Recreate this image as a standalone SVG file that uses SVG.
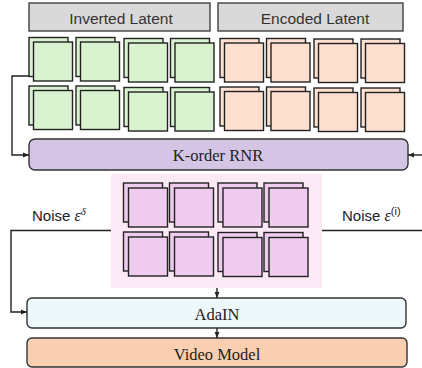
<svg xmlns="http://www.w3.org/2000/svg" width="422" height="368" viewBox="0 0 422 368">
<defs>
<style>
.hdr{fill:#d9d9d9;stroke:#333;stroke-width:1.3}
.ht{font-family:"Liberation Sans",Arial,sans-serif;font-size:15.5px;fill:#333;text-anchor:middle}
.g{fill:#d9f2d0;stroke:#222;stroke-width:1.4}
.p{fill:#fde0d0;stroke:#222;stroke-width:1.4}
.m{fill:#efcbed;stroke:#222;stroke-width:1.4}
.st{font-family:"Liberation Serif","Times New Roman",serif;font-size:16.5px;fill:#222;text-anchor:middle}
.nt{font-family:"Liberation Sans",Arial,sans-serif;font-size:15px;fill:#222}
.mt{font-family:"Liberation Serif","Times New Roman",serif;font-style:italic}
.ln{fill:none;stroke:#222;stroke-width:1.4}
</style>
<marker id="ar" viewBox="0 0 10 10" refX="10" refY="5" markerWidth="6" markerHeight="6" orient="auto" markerUnits="userSpaceOnUse">
<path d="M0,1 L10,5 L0,9 z" fill="#222"/>
</marker>
<g id="tg"><rect class="g" x="0" y="0" width="39" height="39"/><rect class="g" x="4.5" y="4.5" width="39" height="39"/></g>
<g id="tp"><rect class="p" x="0" y="0" width="39" height="39"/><rect class="p" x="4.5" y="4.5" width="39" height="39"/></g>
<g id="tm"><rect class="m" x="0" y="0" width="39" height="39"/><rect class="m" x="5" y="5" width="39" height="39"/></g>
</defs>
<rect width="422" height="368" fill="#fff"/>

<g id="inverted-latent">
<rect class="hdr" x="29" y="3" width="181" height="28"/>
<text class="ht" x="121" y="23.5">Inverted Latent</text>
</g>
<g id="encoded-latent">
<rect class="hdr" x="218" y="3" width="185" height="28"/>
<text class="ht" x="315" y="23.5">Encoded Latent</text>
</g>

<g id="inverted-tiles">
<use href="#tg" x="29" y="37.5"/><use href="#tg" x="76" y="37.5"/><use href="#tg" x="124" y="38.5"/><use href="#tg" x="170.5" y="38.5"/>
<use href="#tg" x="29" y="86"/><use href="#tg" x="76" y="86"/><use href="#tg" x="124" y="87.5"/><use href="#tg" x="170.5" y="87.5"/>
</g>
<g id="encoded-tiles">
<use href="#tp" x="220" y="38.5"/><use href="#tp" x="266.5" y="38.5"/><use href="#tp" x="314" y="39"/><use href="#tp" x="361" y="39"/>
<use href="#tp" x="220" y="87"/><use href="#tp" x="266.5" y="87"/><use href="#tp" x="314" y="88"/><use href="#tp" x="361" y="88"/>
</g>

<g id="rnr">
<rect x="29" y="139" width="379" height="31" rx="6" fill="#d5c5e4" stroke="#333" stroke-width="1.4"/>
<text class="st" x="218" y="161">K-order RNR</text>
</g>

<g id="noise-latent">
<rect x="111" y="174" width="211" height="114" fill="#fbe9f5"/>
<use href="#tm" x="123.5" y="183"/><use href="#tm" x="169.5" y="183"/><use href="#tm" x="218" y="183"/><use href="#tm" x="264" y="183"/>
<use href="#tm" x="123.5" y="232"/><use href="#tm" x="169.5" y="232"/><use href="#tm" x="218" y="232.5"/><use href="#tm" x="264" y="232.5"/>
</g>

<g id="noise-left">
<text class="nt" x="32" y="221">Noise <tspan class="mt" font-size="16">ε</tspan><tspan class="mt" font-size="11" dy="-6">δ</tspan></text>
</g>
<g id="noise-right">
<text class="nt" x="342" y="221">Noise <tspan class="mt" font-size="16">ε</tspan><tspan font-size="11" dy="-6">(i)</tspan></text>
</g>

<g id="adain">
<rect x="27" y="298" width="379" height="30" rx="5" fill="#edf8fa" stroke="#333" stroke-width="1.4"/>
<text class="st" x="217" y="319.5">AdaIN</text>
</g>
<g id="video-model">
<rect x="27" y="338" width="380" height="29" rx="5" fill="#f8cfb0" stroke="#333" stroke-width="1.4"/>
<text class="st" x="217" y="360">Video Model</text>
</g>

<g id="connectors">
<path class="ln" d="M29,76 H12 V155 H29" marker-end="url(#ar)"/>
<path class="ln" d="M422,155 H408" marker-end="url(#ar)"/>
<path class="ln" d="M111,230.5 H11 V312 H27" marker-end="url(#ar)"/>
<path class="ln" d="M322,230.5 H422"/>
<path class="ln" d="M217,288 V298" marker-end="url(#ar)"/>
<path class="ln" d="M217,328 V338" marker-end="url(#ar)"/>
</g>
</svg>
